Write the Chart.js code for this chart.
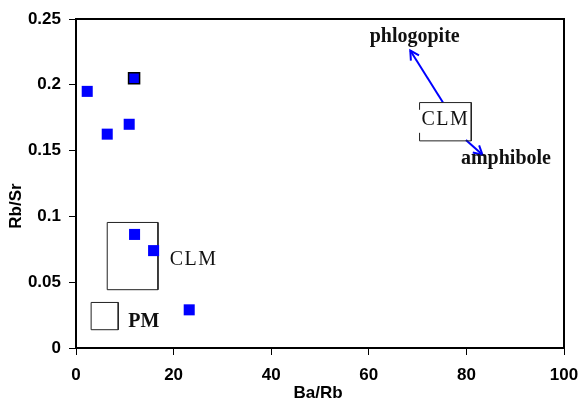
<!DOCTYPE html>
<html>
<head>
<meta charset="utf-8">
<script src="https://cdn.jsdelivr.net/npm/chart.js@4"></script>
<style>
  html, body { margin: 0; padding: 0; background: #fff; }
  #wrap { width: 579px; height: 404px; }
</style>
</head>
<body>
<div id="wrap"><canvas id="chart" width="579" height="404"></canvas></div>
<script>
// samples (Ba/Rb vs Rb/Sr)
const baRb = [2.3, 6.4, 10.9, 11.9, 12.0, 15.9, 23.2];
const rbSr = [0.195, 0.1625, 0.170, 0.205, 0.0863, 0.074, 0.029];
const outlined = [false, false, false, true, false, false, false];

// field boxes
const clmBoxX = [6.4, 16.8, 16.8, 6.4, 6.4];
const clmBoxY = [0.0954, 0.0954, 0.0443, 0.0443, 0.0954];
const pmBoxX = [3.1, 8.65, 8.65, 3.1, 3.1];
const pmBoxY = [0.0346, 0.0346, 0.0139, 0.0139, 0.0346];
// upper-right CLM box, left side broken where the label sits
const clm2BoxX = [70.4, 70.4, 81.0, 81.0, 70.4, 70.4];
const clm2BoxY = [0.181, 0.1865, 0.1865, 0.1574, 0.1574, 0.1635];

// trend arrows
const phlArrowX = [75.2, 68.5];
const phlArrowY = [0.1865, 0.226];
const amphArrowX = [79.9, 83.3];
const amphArrowY = [0.158, 0.1468];

// labels
const labelText = ['CLM', 'PM', 'CLM', 'phlogopite', 'amphibole'];
const labelX = [24.1, 13.9, 75.7, 69.4, 88.1];
const labelY = [0.067, 0.0202, 0.1733, 0.2366, 0.1437];
const labelFont = ['20px "Liberation Serif"', 'bold 20px "Liberation Serif"', '20px "Liberation Serif"',
                   'bold 20px "Liberation Serif"', 'bold 20px "Liberation Serif"'];
const labelSpacing = ['1.5px', '0px', '1.5px', '0px', '0px'];

const xTickLabels = ['0', '20', '40', '60', '80', '100'];
const yTickLabels = ['0', '0.05', '0.1', '0.15', '0.2', '0.25'];

const toXY = (xs, ys) => xs.map((v, i) => ({ x: v, y: ys[i] }));

const lineSet = (xs, ys, color, width) => ({
    type: 'line',
    data: toXY(xs, ys),
    borderColor: color,
    borderWidth: width,
    pointRadius: 0,
    fill: false,
    tension: 0,
    order: 2
});

function arrowHead(ctx, x0, y0, x1, y1) {
    const ang = Math.atan2(y1 - y0, x1 - x0);
    const len = 10;
    ctx.beginPath();
    ctx.moveTo(x1 - len * Math.cos(ang - 0.5), y1 - len * Math.sin(ang - 0.5));
    ctx.lineTo(x1, y1);
    ctx.lineTo(x1 - len * Math.cos(ang + 0.5), y1 - len * Math.sin(ang + 0.5));
    ctx.stroke();
}

const annotations = {
    id: 'annotations',
    afterDatasetsDraw(chart) {
        const { ctx, chartArea: a, scales: { x, y } } = chart;
        ctx.save();
        // frame top/right
        ctx.strokeStyle = '#000';
        ctx.lineWidth = 2;
        ctx.beginPath();
        ctx.moveTo(a.left, a.top);
        ctx.lineTo(a.right, a.top);
        ctx.lineTo(a.right, a.bottom);
        ctx.stroke();

        // arrow heads
        ctx.strokeStyle = '#0000ff';
        ctx.lineWidth = 2;
        arrowHead(ctx, x.getPixelForValue(phlArrowX[0]), y.getPixelForValue(phlArrowY[0]),
                  x.getPixelForValue(phlArrowX[1]), y.getPixelForValue(phlArrowY[1]));
        arrowHead(ctx, x.getPixelForValue(amphArrowX[0]), y.getPixelForValue(amphArrowY[0]),
                  x.getPixelForValue(amphArrowX[1]), y.getPixelForValue(amphArrowY[1]));

        // text labels
        ctx.fillStyle = '#111';
        ctx.textAlign = 'center';
        ctx.textBaseline = 'middle';
        labelText.forEach((t, i) => {
            ctx.font = labelFont[i];
            ctx.letterSpacing = labelSpacing[i];
            ctx.fillText(t, x.getPixelForValue(labelX[i]), y.getPixelForValue(labelY[i]));
        });
        ctx.letterSpacing = '0px';

        // axis titles
        ctx.fillStyle = '#000';
        ctx.font = 'bold 17px "Liberation Sans"';
        ctx.fillText('Ba/Rb', 318, 393);
        ctx.translate(16, 206);
        ctx.rotate(-Math.PI / 2);
        ctx.fillText('Rb/Sr', 0, 0);
        ctx.restore();
    }
};

const tickFont = { family: '"Liberation Sans"', size: 17, weight: 'bold' };

new Chart(document.getElementById('chart'), {
    type: 'scatter',
    data: {
        datasets: [
            {
                data: toXY(baRb, rbSr),
                pointStyle: 'rect',
                pointRadius: 7.8,
                pointBackgroundColor: '#0000ff',
                pointBorderColor: outlined.map(o => o ? '#000' : '#0000ff'),
                pointBorderWidth: outlined.map(o => o ? 1.5 : 0),
                showLine: false,
                order: 1
            },
            lineSet(clmBoxX, clmBoxY, '#222', 1),
            lineSet(pmBoxX, pmBoxY, '#222', 1),
            lineSet(clm2BoxX, clm2BoxY, '#222', 1),
            lineSet(phlArrowX, phlArrowY, '#0000ff', 2),
            lineSet(amphArrowX, amphArrowY, '#0000ff', 2)
        ]
    },
    options: {
        responsive: false,
        animation: false,
        events: [],
        layout: { padding: { left: 0, right: 15, top: 19, bottom: 0 } },
        plugins: { legend: { display: false }, tooltip: { enabled: false } },
        scales: {
            x: {
                type: 'linear',
                min: 0, max: 100,
                afterFit: a => { a.height = 56; a.paddingRight = 0; a.paddingLeft = 0; },
                border: { color: '#000', width: 2 },
                grid: { drawOnChartArea: false, color: '#000', tickLength: 7, lineWidth: 1 },
                ticks: {
                    stepSize: 20,
                    padding: 10,
                    color: '#000',
                    font: tickFont,
                    maxRotation: 0,
                    callback: v => xTickLabels[Math.round(v / 20)]
                }
            },
            y: {
                type: 'linear',
                min: 0, max: 0.25,
                afterFit: a => { a.width = 76; a.paddingTop = 0; a.paddingBottom = 0; },
                border: { color: '#000', width: 2 },
                grid: { drawOnChartArea: false, color: '#000', tickLength: 7, lineWidth: 1 },
                ticks: {
                    stepSize: 0.05,
                    padding: 8,
                    color: '#000',
                    font: tickFont,
                    callback: v => yTickLabels[Math.round(v / 0.05)]
                }
            }
        }
    },
    plugins: [annotations]
});
</script>
</body>
</html>
